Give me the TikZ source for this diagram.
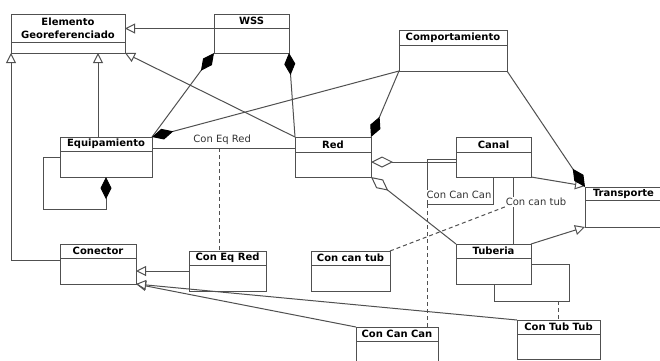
\documentclass[tikz,border=0pt]{standalone}
\usepackage{fontspec}
\setmainfont{DejaVu Sans}
\usetikzlibrary{arrows.meta,calc}

\definecolor{ink}{HTML}{505050}

\tikzset{
  edge/.style={draw=ink, line width=1pt},
  clsbox/.style={edge, rectangle, inner sep=0pt, outer sep=0pt, anchor=north west, fill=white},
  clstitle/.style={font=\bfseries\fontsize{10}{13}\selectfont, inner sep=0pt, align=center, text=black},
  genl/.style={edge, -{Triangle[open, length=10pt, width=10pt, fill=white]}},
  compos/.style={edge, -{Diamond[length=22pt, width=11pt, color=black]}},
  aggr/.style={edge, -{Diamond[open, length=22pt, width=11pt, fill=white]}},
  dep/.style={edge, dash pattern=on 4pt off 3pt},
  lbl/.style={font=\fontsize{10}{12}\selectfont, text=black!80, fill=white, inner sep=1pt},
}

% class box: name, x1, y1, x2, y of divider, y2, title
\newcommand\umlclass[7]{%
  \node[clsbox, minimum width={#4-#2}, minimum height={#6-#3}] (#1) at (#2,#3) {};
  \draw[edge] (#2,#5) -- (#4,#5);
  \node[clstitle] (#1-title) at ({(#2+#4)/2},{(#3+#5)/2}) {#7};
}

\begin{document}
\begin{tikzpicture}[x=1pt, y=-1pt]
\clip (0,0) rectangle (660,360);
\fill[white] (0,0) rectangle (660,360);

% classes
\umlclass{elem}{11}{14}{125}{42}{53}{Elemento\\Georeferenciado}
\umlclass{wss}{214}{14}{289}{28}{53}{WSS}
\umlclass{comport}{399}{30}{507}{45}{71}{Comportamiento}
\umlclass{equip}{60}{137}{152}{151}{177}{Equipamiento}
\umlclass{red}{295}{137}{371}{152}{177}{Red}
\umlclass{canal}{456}{137}{531}{152}{177}{Canal}
\umlclass{trans}{585}{187}{662}{200}{227}{Transporte}
\umlclass{tub}{456}{244}{531}{258}{284}{Tuberia}
\umlclass{con}{60}{244}{136}{258}{284}{Conector}
\umlclass{ceqr}{189}{251}{266}{265}{291}{Con Eq Red}
\umlclass{cct}{311}{251}{390}{265}{291}{Con can tub}
\umlclass{ccc}{356}{327}{438}{341}{368}{Con Can Can}
\umlclass{ctt}{517}{320}{600}{334}{359}{Con Tub Tub}

% generalisations
\draw[genl] ($(wss.north west)+(0,14.5)$) -- ($(elem.north east)+(0,14.5)$);
\draw[genl] ($(equip.north west)+(38,0)$) -- ($(elem.south west)+(87,0)$);
\draw[genl] (red.north west) -- (elem.south east);
\draw[genl] ($(con.north west)+(0,16)$) -| (elem.south west);
\draw[genl] (ceqr.west) -- (con.east |- ceqr.west);
\draw[genl] (ccc.north west) -- (con.south east);
\draw[genl] (ctt.north west) -- (con.south east);
\draw[genl] (canal.south east) -- ($(trans.north west)+(0,-1)$);
\draw[genl] (tub.north east) -- (trans.south west);

% compositions
\draw[compos] (equip.north east) -- (wss.south west);
\draw[compos] (red.north west) -- (wss.south east);
\draw[compos] (comport.south west) -- (equip.north east);
\draw[compos] (comport.south west) -- (red.north east);
\draw[compos] (comport.south east) -- (trans.north west);
\draw[compos] ($(equip.north west)+(0,20)$) -- ++(-17,0) |- ($(equip.south)+(0,32)$) -- (equip.south);

% aggregations
\draw[aggr] ($(canal.north west)+(0,25)$) -- ($(red.north east)+(0,25)$);
\draw[aggr] (tub.north west) -- (red.south east);

% associations and their association classes
\draw[edge] ($(equip.north east)+(0,11)$) -- coordinate[pos=0.47] (eqr) ($(red.north west)+(0,11)$);
\node[lbl, fill=none] (eqrlbl) at ($(eqr)+(3,-8)$) {Con Eq Red};
\draw[dep] (eqr) -- (eqr |- ceqr.north);

\draw[edge] ($(canal.north west)+(0,22)$) -- ++(-29,0) coordinate (cl1)
  |- ($(canal.south west)+(37,27)$) coordinate (cl2) -- ($(canal.south west)+(37,0)$);
\draw[dep] (cl1 |- cl2) -- (cl1 |- ccc.north);
\node[lbl] (cclbl) at ($(canal.south west)+(3,18)$) {Con Can Can};

\draw[edge] ($(canal.south west)+(57,0)$) -- coordinate[pos=0.4] (ctb) ($(tub.north west)+(57,0)$);
\draw[dep] (cct.north east) -- (ctb);
\node[lbl] (ctblbl) at ($(ctb)+(23,-2)$) {Con can tub};

\draw[edge] ($(tub.north east)+(0,20)$) -- ++(38,0) coordinate (tl1)
  |- ($(tub.south west)+(38,17)$) coordinate (tl2) -- ($(tub.south west)+(38,0)$);
\draw[dep] (ctt.north |- tl2) -- (ctt.north);
\end{tikzpicture}
\end{document}
